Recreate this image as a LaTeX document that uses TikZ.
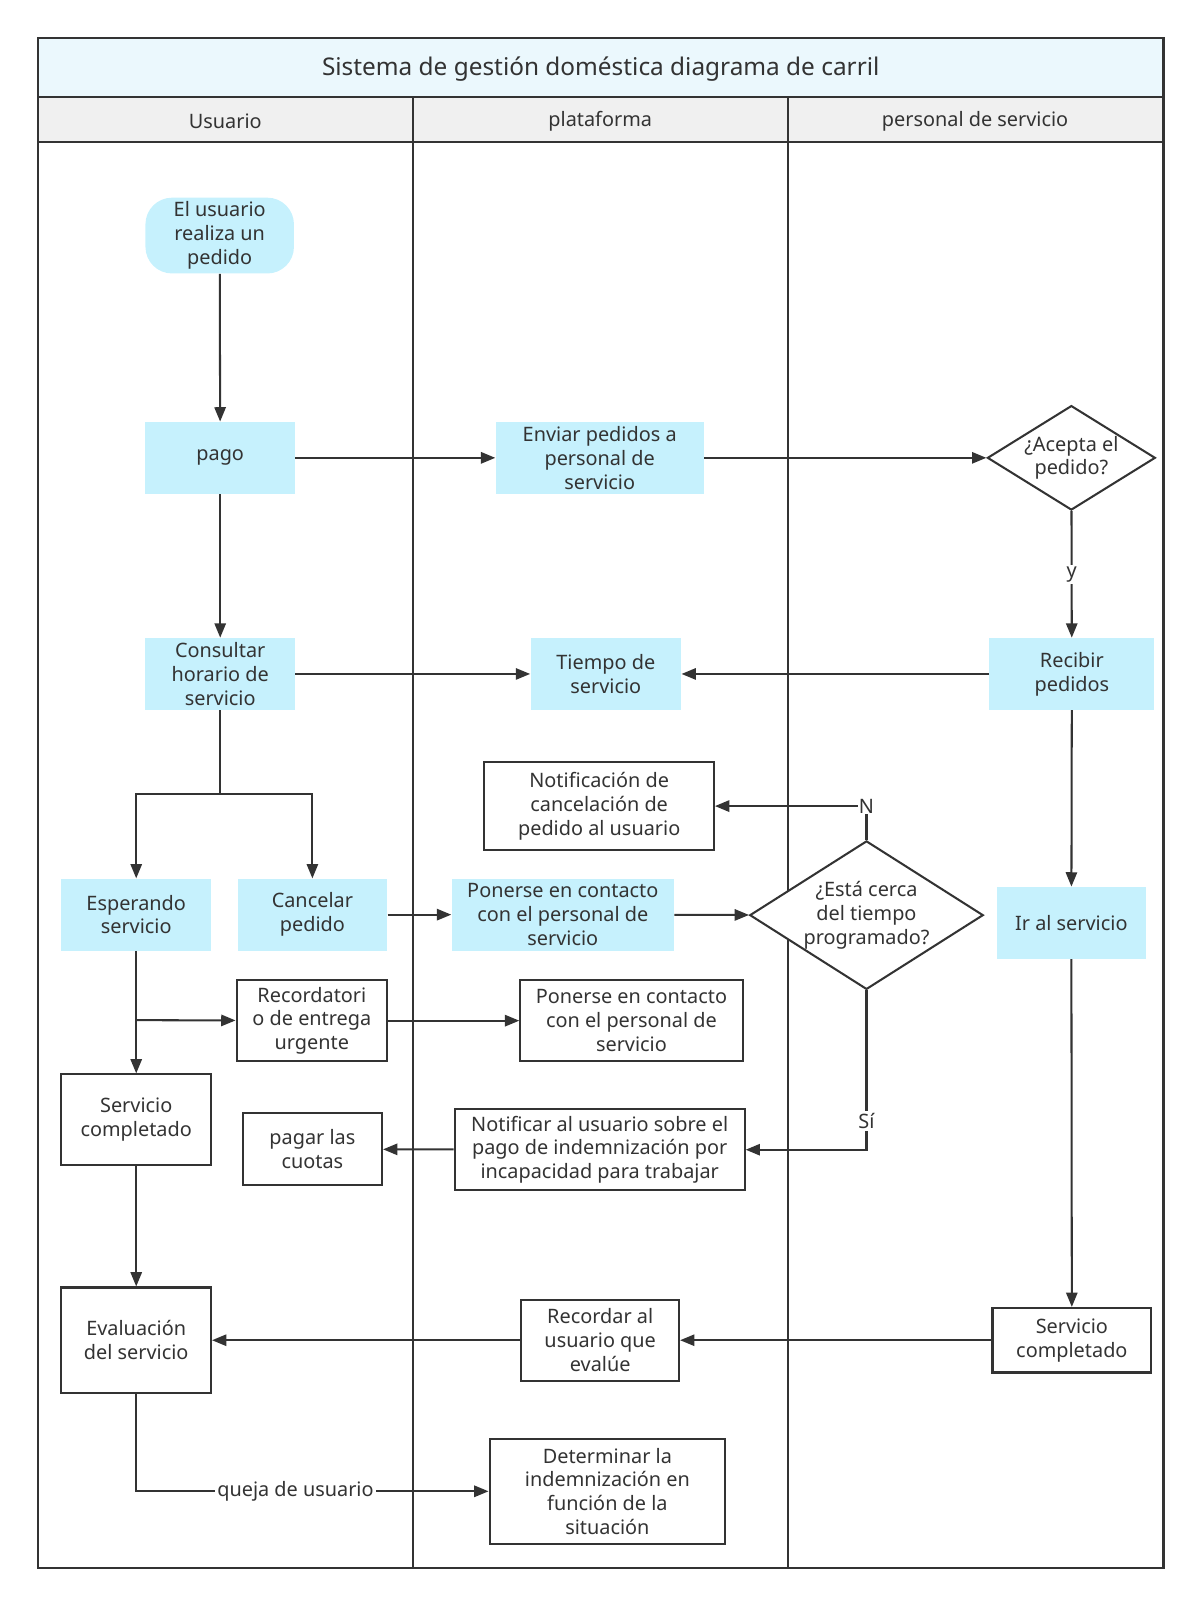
\documentclass[tikz,border=0pt]{standalone}
\usepackage{fontspec}
\setmainfont{Noto Sans}
\usetikzlibrary{arrows.meta,shapes.geometric}
\definecolor{cyanf}{HTML}{C6F1FD}
\definecolor{titlef}{HTML}{EBF8FD}
\definecolor{headf}{HTML}{F0F0F0}
\definecolor{ink}{HTML}{333333}
\begin{document}
\begin{tikzpicture}[x=0.5pt,y=-0.5pt,
  font=\fontsize{9.7}{11.6}\selectfont, text=ink,
  cyb/.style={fill=cyanf, align=center, inner sep=0pt},
  wb/.style={draw=ink, line width=1pt, fill=white, align=center, inner sep=0pt},
  dia/.style={diamond, draw=ink, line width=1pt, fill=white, inner sep=0pt},
  txt/.style={align=center, inner sep=0pt},
  arr/.style={draw=ink, line width=1pt, -{Triangle[length=7pt,width=5.5pt]}},
  lbl/.style={fill=white, inner sep=1pt},
  hdr/.style={inner sep=0pt}]
\useasboundingbox (0,0) rectangle (1172,1568);
% frame
\fill[titlef] (37,37) rectangle (1136,95);
\fill[headf] (37,95) rectangle (1136,139);
\draw[ink, line width=1pt] (37,95) -- (1136,95) (37,139) -- (1136,139);
\draw[ink, line width=1pt] (403,95) -- (403,1531) (769,95) -- (769,1531);
\draw[ink, line width=1.3pt] (37,37) rectangle (1136,1531);
\node[hdr, font=\fontsize{11.9}{14}\selectfont] (title) at (586.5,67) {Sistema de gestión doméstica diagrama de carril};
\node[hdr] (h1) at (220,118) {Usuario};
\node[hdr] (h2) at (586,118) {plataforma};
\node[hdr] (h3) at (952,118) {personal de servicio};
% nodes
\node[cyb, rounded corners=13pt, minimum width=72.5pt, minimum height=37pt] (start) at (214.5,230) {El usuario\\realiza un\\pedido};
\node[cyb, minimum width=73pt, minimum height=35pt] (pago) at (215,447) {pago};
\node[cyb, minimum width=101.5pt, minimum height=35pt] (enviar) at (585.5,447) {Enviar pedidos a\\personal de\\servicio};
\node[dia, minimum width=82pt, minimum height=51pt] (acepta) at (1046,447) {};
\node[txt] (aceptat) at (1046,447) {¿Acepta el\\pedido?};
\node[cyb, minimum width=73pt, minimum height=35pt] (consultar) at (215,658) {Consultar\\horario de\\servicio};
\node[cyb, minimum width=73.5pt, minimum height=35pt] (tiempo) at (591.5,658) {Tiempo de\\servicio};
\node[cyb, minimum width=80.5pt, minimum height=35pt] (recibir) at (1046.5,658) {Recibir\\pedidos};
\node[wb, minimum width=112pt, minimum height=43pt] (notifc) at (585,787) {Notificación de\\cancelación de\\pedido al usuario};
\node[cyb, minimum width=73pt, minimum height=35pt] (esperando) at (133,893) {Esperando\\servicio};
\node[cyb, minimum width=73pt, minimum height=35pt] (cancelar) at (305,893) {Cancelar\\pedido};
\node[cyb, minimum width=108.5pt, minimum height=35pt] (ponerse1) at (549.5,893) {Ponerse en contacto\\con el personal de\\servicio};
\node[dia, minimum width=114pt, minimum height=72.5pt] (esta) at (846,893.5) {};
\node[txt] (estat) at (846,893.5) {¿Está cerca\\del tiempo\\programado?};
\node[cyb, minimum width=73pt, minimum height=35pt] (ir) at (1046,901) {Ir al servicio};
\node[wb, minimum width=73.5pt, minimum height=39.5pt] (recordatorio) at (304.5,996.5) {Recordatori\\o de entrega\\urgente};
\node[wb, minimum width=108.5pt, minimum height=39.5pt] (ponerse2) at (616.5,996.5) {Ponerse en contacto\\con el personal de\\servicio};
\node[wb, minimum width=73pt, minimum height=44pt] (servu) at (133,1093) {Servicio\\completado};
\node[wb, minimum width=68pt, minimum height=35pt] (pagar) at (305,1122) {pagar las\\cuotas};
\node[wb, minimum width=141.5pt, minimum height=39.5pt] (notificar) at (585.5,1122.5) {Notificar al usuario sobre el\\pago de indemnización por\\incapacidad para trabajar};
\node[wb, minimum width=73pt, minimum height=51.5pt] (evaluacion) at (133,1308.5) {Evaluación\\del servicio};
\node[wb, minimum width=77pt, minimum height=39.5pt] (recordar) at (586,1308.5) {Recordar al\\usuario que\\evalúe};
\node[wb, minimum width=77.5pt, minimum height=31.5pt] (servs) at (1046.5,1308.5) {Servicio\\completado};
\node[wb, minimum width=115pt, minimum height=51pt] (determinar) at (593,1456) {Determinar la\\indemnización en\\función de la\\situación};
% connectors
\coordinate (split) at (215,775);
\coordinate (br) at (133,996);
\draw[arr] (start) -- (pago);
\draw[arr] (pago) -- (enviar);
\draw[arr] (enviar) -- (acepta);
\draw[arr] (acepta) -- node[lbl]{y} (recibir);
\draw[arr] (pago) -- (consultar);
\draw[arr] (consultar) -- (tiempo);
\draw[arr] (recibir) -- (tiempo);
\draw[draw=ink, line width=1pt] (consultar) -- (split);
\draw[arr] (split) -| (esperando);
\draw[arr] (split) -| (cancelar);
\draw[arr] (cancelar) -- (ponerse1);
\draw[arr] (ponerse1) -- (esta);
\draw[arr] (esta.north) |- node[lbl, pos=0.5, inner sep=0.5pt]{N} (notifc.east);
\draw[arr] (esta.south) |- node[lbl, pos=0.41]{Sí} (notificar.east);
\draw[arr] (notificar) -- (pagar);
\draw[arr] (recibir) -- (ir);
\draw[arr] (ir) -- (servs);
\draw[arr] (esperando) -- (servu);
\draw[arr] (br) -- (recordatorio);
\draw[arr] (recordatorio) -- (ponerse2);
\draw[arr] (servu) -- (evaluacion);
\draw[arr] (servs) -- (recordar);
\draw[arr] (recordar) -- (evaluacion);
\draw[arr] (evaluacion.south) |- node[lbl, pos=0.726]{queja de usuario} (determinar.west);
\end{tikzpicture}
\end{document}
